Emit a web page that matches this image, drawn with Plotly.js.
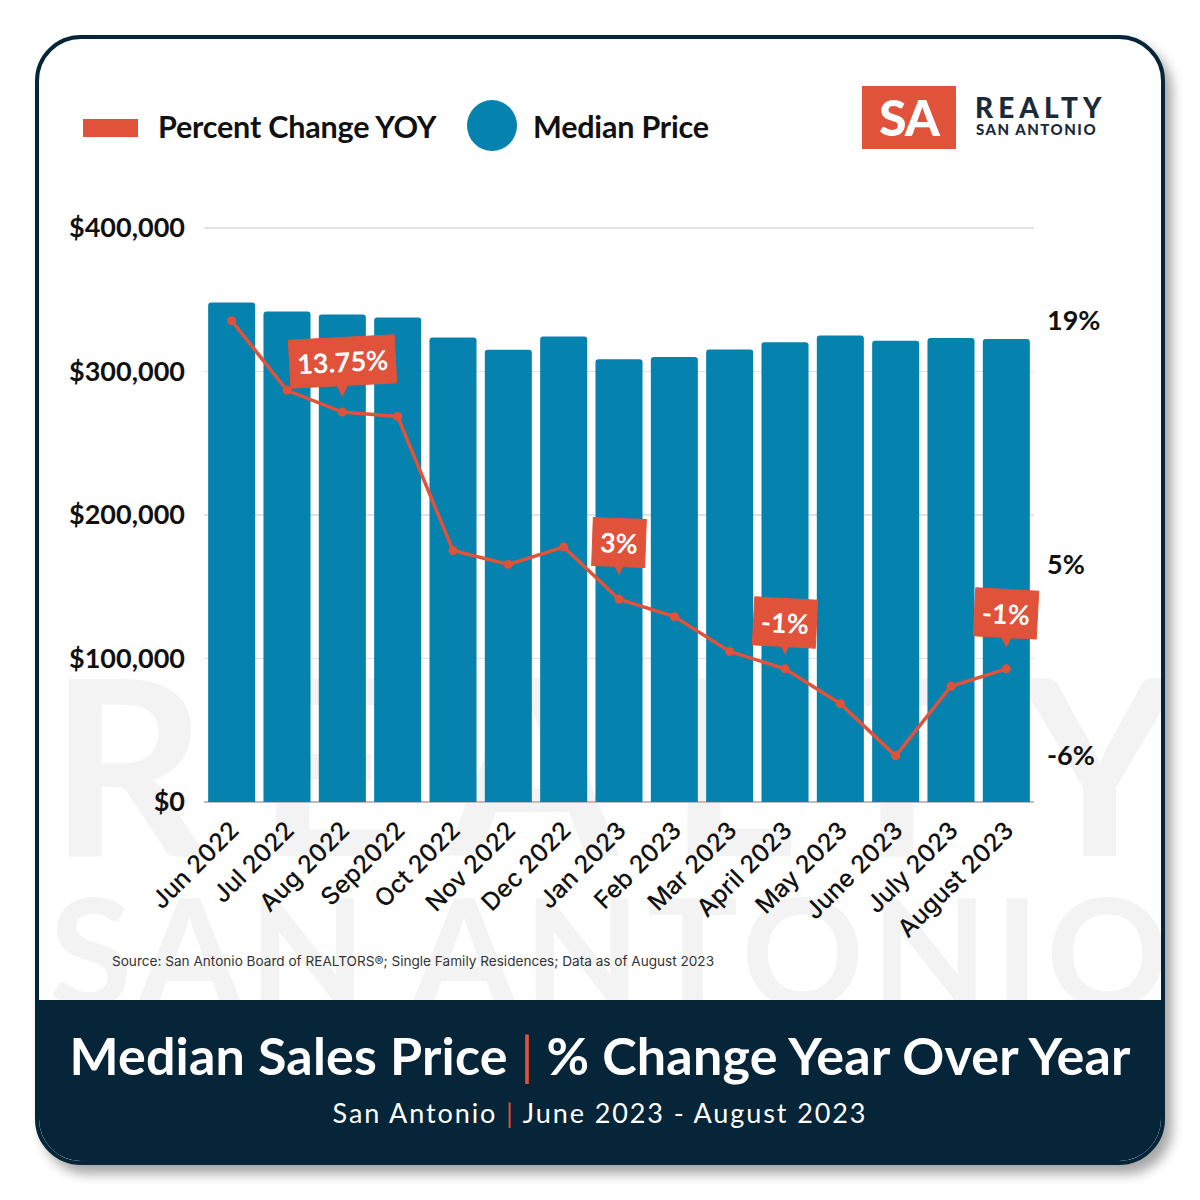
<!DOCTYPE html>
<html>
<head>
<meta charset="utf-8">
<script src="https://cdn.plot.ly/plotly-3.0.1.min.js"></script>
<style>
  html, body { margin:0; padding:0; background:#ffffff; }
  body { width:1200px; height:1200px; position:relative; overflow:hidden; font-family:Lato, "Noto Sans", sans-serif; }
  #card { position:absolute; left:35px; top:35px; width:1122px; height:1122px; border:4px solid #062538; border-radius:46px; overflow:hidden; background:#fff; box-shadow:7px 9px 12px rgba(0,0,0,0.35); z-index:0; }
  .wm { position:absolute; left:10px; color:#f3f3f3; font-family:Lato, sans-serif; font-weight:700; white-space:nowrap; line-height:1; }
  #wm1 { top:600px; font-size:245px; }
  #wm2 { top:834px; font-size:152px; }
  #banner { position:absolute; left:0; right:0; top:961px; bottom:0; background:#062538; }
  #btitle { position:absolute; left:0; right:0; top:24px; text-align:center; color:#fff; font-size:52px; font-weight:700; line-height:1.2; letter-spacing:0.2px; }
  #bsub { position:absolute; left:0; right:0; top:97px; text-align:center; color:#fff; font-size:27px; font-weight:400; line-height:1.2; letter-spacing:1.9px; }
  .sep { color:#e05239; font-weight:400; }
  #chart { position:absolute; left:0; top:0; width:1200px; height:1200px; z-index:2; }
  .abs { position:absolute; z-index:3; white-space:nowrap; }
  #legRect { left:83px; top:119px; width:55px; height:18px; background:#e05239; }
  #legCirc { left:467px; top:100px; width:50px; height:51px; border-radius:50%; background:#0582ad; }
  .legTxt { font-size:30.5px; font-weight:700; color:#111; line-height:1; top:111px; letter-spacing:-0.2px; }
  #logoBox { left:862px; top:86px; width:94px; height:63px; background:#e05239; color:#fff; font-size:50px; font-weight:900; text-align:center; line-height:63px; letter-spacing:-1px; }
  #logo1 { left:975px; top:93px; font-size:28px; font-weight:900; color:#1b2a3a; letter-spacing:5px; line-height:1; }
  #logo2 { left:976px; top:122px; font-size:15px; font-weight:900; color:#1b2a3a; letter-spacing:1.5px; line-height:1; }
  #source { left:112px; top:955px; font-family:Inter, sans-serif; font-size:13.6px; color:#333; line-height:1; }
</style>
</head>
<body>
<div id="card">
  <div id="wm1" class="wm">REALTY</div>
  <div id="wm2" class="wm">SAN ANTONIO</div>
  <div id="banner">
    <div id="btitle">Median Sales Price <span class="sep">|</span> % Change Year Over Year</div>
    <div id="bsub">San Antonio <span class="sep">|</span> June 2023 - August 2023</div>
  </div>
</div>
<div id="legRect" class="abs"></div>
<div class="abs legTxt" style="left:158px;">Percent Change YOY</div>
<div id="legCirc" class="abs"></div>
<div class="abs legTxt" style="left:533px;">Median Price</div>
<div id="logoBox" class="abs">SA</div>
<div id="logo1" class="abs">REALTY</div>
<div id="logo2" class="abs">SAN ANTONIO</div>
<div id="source" class="abs">Source: San Antonio Board of REALTORS®; Single Family Residences; Data as of August 2023</div>
<div id="chart"></div>
<script>
// ---- data ----
const months = ['Jun 2022','Jul 2022','Aug 2022','Sep2022','Oct 2022','Nov 2022','Dec 2022','Jan 2023','Feb 2023','Mar 2023','April 2023','May 2023','June 2023','July 2023','August 2023'];
const medianPrice = [348000, 341700, 339600, 337500, 323600, 315000, 324300, 308500, 310000, 315200, 320300, 325000, 321300, 323300, 322600];
const pctChangeYOY = [19, 15, 13.75, 13.5, 5.8, 5, 6, 3, 2, 0, -1, -3, -6, -2, -1];
const priceTicks = [0, 100000, 200000, 300000, 400000];
const priceTickLabels = ['$0','$100,000','$200,000','$300,000','$400,000'];
const pctTicks = [19, 5, -6];
const pctTickLabels = ['19%','5%','-6%'];
const calloutIdx = [2, 7, 10, 14];
const calloutLabels = ['13.75%','3%','-1%','-1%'];

// ---- styles ----
const BLUE = '#0582ad', RED = '#e05239';
const calloutStyle = [
  {ay:-51, standoff:15, angle:-3},
  {ay:-57, standoff:24, angle:2},
  {ay:-46, standoff:14, angle:3},
  {ay:-55, standoff:21, angle:3}
];

// fit watermark widths
function fitWidth(id, target){
  const el = document.getElementById(id);
  const n = el.textContent.length;
  const w = el.getBoundingClientRect().width;
  el.style.letterSpacing = ((target - w) / (n - 1)) + 'px';
}
fitWidth('wm1', 1130);
fitWidth('wm2', 1120);

const traces = [
  {
    type:'bar', x:months, y:medianPrice, yaxis:'y',
    marker:{color:BLUE, cornerradius:3},
    hoverinfo:'skip'
  },
  {
    type:'scatter', mode:'lines+markers', x:months, y:pctChangeYOY, yaxis:'y2',
    line:{color:RED, width:3.5},
    marker:{color:RED, size:9},
    hoverinfo:'skip'
  }
];

const annotations = calloutIdx.map((i, k) => ({
  x: months[i], y: pctChangeYOY[i], xref:'x', yref:'y2',
  text: calloutLabels[k],
  showarrow:true, ax:0, ay:calloutStyle[k].ay, axref:'pixel', ayref:'pixel',
  arrowhead:2, arrowsize:1.5, arrowwidth:2, arrowcolor:RED,
  standoff:calloutStyle[k].standoff,
  textangle:calloutStyle[k].angle,
  bgcolor:RED, bordercolor:RED, borderwidth:1, borderpad:7,
  font:{family:'Lato', size:27, color:'#ffffff', weight:700}
}));

const axisFont = {family:'Lato', size:27, color:'#111111', weight:700};
const yTop = 402000;

const layout = {
  width:1200, height:1200,
  margin:{l:204, r:166, t:225, b:398, pad:0},
  paper_bgcolor:'rgba(0,0,0,0)', plot_bgcolor:'rgba(0,0,0,0)',
  showlegend:false,
  bargap:0.15,
  xaxis:{
    type:'category', range:[-0.5, months.length - 0.5], tickangle:-45, ticks:'', showline:false, showgrid:false,
    tickfont:{family:'Inter', size:24.5, color:'#111111', weight:500},
    ticklabelstandoff:8,
    automargin:false
  },
  yaxis:{
    range:[0, yTop], tickvals:priceTicks, ticktext:priceTickLabels,
    tickfont:axisFont, showgrid:true, gridcolor:'#e2e2e2', gridwidth:1.5,
    zeroline:true, zerolinecolor:'#bdbdbd', zerolinewidth:2, showline:false,
    ticks:'', ticklabelstandoff:18, automargin:false
  },
  yaxis2:{
    overlaying:'y', side:'right', range:[-8.65, 24.5],
    tickvals:pctTicks, ticktext:pctTickLabels, tickfont:axisFont,
    showgrid:false, zeroline:false, showline:false, ticks:'',
    ticklabelstandoff:12, automargin:false
  },
  annotations: annotations
};

Plotly.newPlot('chart', traces, layout, {displayModeBar:false, staticPlot:true});
</script>
</body>
</html>
